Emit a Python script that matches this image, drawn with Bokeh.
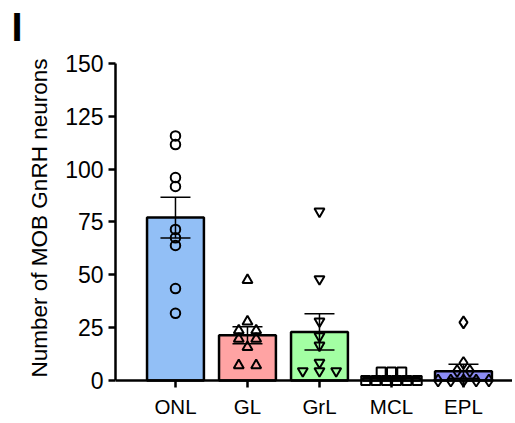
from bokeh.plotting import figure
from bokeh.models import Range1d, FixedTicker, Span
from bokeh.embed import file_html
from bokeh.resources import INLINE

# ---------------- data ----------------
categories = ["ONL", "GL", "GrL", "MCL", "EPL"]
means = [77.1, 21.4, 23.0, 1.33, 4.4]
sems = [9.65, 4.0, 8.6, 0.6, 3.3]

onl_points = [115.7, 111.6, 96.0, 91.8, 71.5, 67.5, 63.9, 43.5, 31.8]
gl_points = [47.5, 27.9, 23.7, 23.7, 19.7, 19.7, 15.8, 7.2, 7.2]
grl_points = [80.0, 48.0, 28.0, 21.0, 16.6, 8.5, 4.5, 4.5, 4.5]
mcl_points = [4.0, 4.0, 4.0, 0.0, 0.0, 0.0, 0.0, 0.0, 0.0]
epl_points = [27.5, 8.3, 4.5, 4.5, 0.0, 0.0, 0.0, 0.0, 0.0]

y_ticks = [0, 25, 50, 75, 100, 125, 150]
y_max = 150
y_label = "Number of MOB GnRH neurons"
panel_letter = "I"

# ---------------- styles ----------------
bar_colors = ["#92BFF6", "#FFA3A3", "#A3FFA3", "#FFFFFF", "#8C8CF5"]
markers = ["circle", "triangle", "inverted_triangle", "square", "diamond"]
marker_sizes = [9.5, 10, 10, 9, 12]
row_spacing_px = [17.0, 17.4, 16.7, 10.3, 12.7]
FONT = "Liberation Sans"

W, H = 512, 420
B_LEFT, B_TOP, B_RIGHT = 115, 48, 0
AXIS_TOP_PX = 63          # screen y where the y axis ends (at y_max)
ZERO_PX = 382             # screen y of value 0
FRAME_BOTTOM_PX = 389
B_BOTTOM = H - FRAME_BOTTOM_PX
frame_w = W - B_LEFT - B_RIGHT
frame_h = H - B_TOP - B_BOTTOM
px_per_x = 72.0
x_start = -0.833
x_end = x_start + frame_w / px_per_x
px_per_y = (ZERO_PX - AXIS_TOP_PX) / y_max
y_end = y_max + (AXIS_TOP_PX - B_TOP) / px_per_y
y_start = y_end - frame_h / px_per_y

p = figure(width=W, height=H, x_range=Range1d(x_start, x_end),
           y_range=Range1d(y_start, y_end), output_backend="svg",
           toolbar_location=None, min_border_left=B_LEFT, min_border_right=B_RIGHT,
           min_border_top=B_TOP, min_border_bottom=B_BOTTOM)
p.outline_line_color = None
p.xgrid.visible = False
p.ygrid.visible = False
p.background_fill_color = "white"
p.border_fill_color = "white"

xs = list(range(len(categories)))

# bars
p.vbar(x=xs, top=means, bottom=0, width=0.79, fill_color=bar_colors,
       line_color="black", line_width=2.5)

# error bars
upper = [m + s for m, s in zip(means, sems)]
lower = [m - s for m, s in zip(means, sems)]
cap = 15.0 / px_per_x
p.segment(x0=xs, y0=lower, x1=xs, y1=upper, line_color="black", line_width=1.5)
p.segment(x0=[x - cap for x in xs], y0=upper, x1=[x + cap for x in xs], y1=upper,
          line_color="black", line_width=1.5)
p.segment(x0=[x - cap for x in xs], y0=lower, x1=[x + cap for x in xs], y1=lower,
          line_color="black", line_width=1.5)


def swarm_x(center, vals, spacing_px):
    counts = {}
    for v in vals:
        counts[v] = counts.get(v, 0) + 1
    seen = {}
    out = []
    for v in vals:
        n = counts[v]
        i = seen.get(v, 0)
        seen[v] = i + 1
        out.append(center + (i - (n - 1) / 2.0) * spacing_px / px_per_x)
    return out


all_points = [onl_points, gl_points, grl_points, mcl_points, epl_points]
for i, pts in enumerate(all_points):
    px = swarm_x(xs[i], pts, row_spacing_px[i])
    p.scatter(x=px, y=pts, marker=markers[i], size=marker_sizes[i],
              fill_alpha=0, line_color="black", line_width=2)

# baseline (x axis line at y = 0)
p.add_layout(Span(location=0, dimension="width", line_color="black", line_width=2.5))

# x axis
p.xaxis.ticker = FixedTicker(ticks=xs)
p.xaxis.major_label_overrides = {i: c for i, c in enumerate(categories)}
p.xaxis.axis_line_color = None
p.xaxis.major_tick_in = 7
p.xaxis.major_tick_out = 0
p.xaxis.major_tick_line_width = 2.5
p.xaxis.minor_tick_line_color = None
p.xaxis.major_label_text_font = FONT
p.xaxis.major_label_text_font_size = "20.5px"
p.xaxis.major_label_text_color = "black"
p.xaxis.major_label_standoff = 7

# y axis
p.yaxis.ticker = FixedTicker(ticks=y_ticks)
p.yaxis.bounds = (0, y_max)
p.yaxis.axis_line_width = 2.5
p.yaxis.major_tick_line_width = 2.5
p.yaxis.major_tick_out = 7
p.yaxis.major_tick_in = 0
p.yaxis.minor_tick_line_color = None
p.yaxis.major_label_text_font = FONT
p.yaxis.major_label_text_font_size = "23px"
p.yaxis.major_label_text_color = "black"
p.yaxis.major_label_standoff = 5
p.yaxis.axis_label = y_label
p.yaxis.axis_label_text_font = FONT
p.yaxis.axis_label_text_font_size = "22.5px"
p.yaxis.axis_label_text_font_style = "normal"
p.yaxis.axis_label_text_color = "black"
p.yaxis.axis_label_standoff = 10

# panel letter as title
p.title.text = panel_letter
p.title.text_font = FONT
p.title.text_font_size = "40px"
p.title.text_font_style = "bold"
p.title.text_color = "black"
p.title.align = "left"
p.title.offset = -104
p.title.standoff = 0

open("out.html", "w").write(file_html(p, INLINE))
